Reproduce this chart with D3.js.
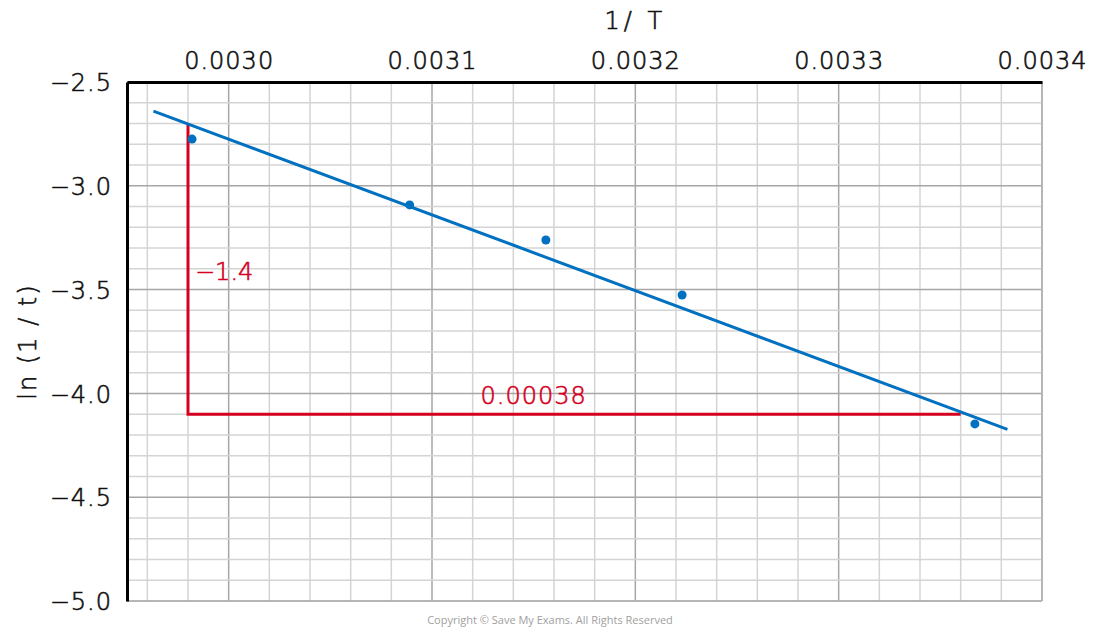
<!DOCTYPE html>
<html>
<head>
<meta charset="utf-8">
<script src="https://cdn.jsdelivr.net/npm/d3@7"></script>
<style>
  body { margin: 0; background: #fff; }
  text { font-family: "DejaVu Sans", sans-serif; font-weight: 200; }
</style>
</head>
<body>
<svg id="chart" width="1100" height="634"></svg>
<script>
// data
const invT = [0.002982, 0.003089, 0.003156, 0.003223, 0.003367];
const lnRate = [-2.775, -3.092, -3.261, -3.526, -4.147];
const fitX = [0.002963, 0.003383];
const fitY = [-2.64, -4.173];
const triX = [0.00298, 0.00298, 0.00336];
const triY = [-2.7, -4.1, -4.1];
const xTicks = [0.0030, 0.0031, 0.0032, 0.0033, 0.0034];
const yTicks = [-2.5, -3.0, -3.5, -4.0, -4.5, -5.0];
const riseLabel = '−1.4';
const runLabel = '0.00038';

const svg = d3.select('#chart');
const marginLeft = 127, marginTop = 82, width = 915, height = 519;
const font = '"DejaVu Sans", sans-serif';
const ink = '#111';
const red = '#d5001f';

const x = d3.scaleLinear().domain([0.00295, 0.0034]).range([0, width]);
const y = d3.scaleLinear().domain([-2.5, -5.0]).range([0, height]);

const chart = svg.append('g').attr('transform', `translate(${marginLeft}, ${marginTop})`);

// grid
const xMinor = d3.range(0, 23).map(i => 0.00296 + i * 0.00002);
const yMinor = d3.range(0, 26).map(i => -2.5 - i * 0.1);
const isMajorX = v => Math.abs(v * 10000 - Math.round(v * 10000)) < 1e-6;
const isMajorY = v => Math.abs(v * 2 - Math.round(v * 2)) < 1e-6;

chart.append('g').selectAll('line')
  .data(xMinor)
  .enter().append('line')
  .attr('x1', d => x(d)).attr('x2', d => x(d))
  .attr('y1', 0).attr('y2', height)
  .style('stroke', d => isMajorX(d) ? '#a6a6a6' : '#d4d4d4')
  .style('stroke-width', 1.5);

chart.append('g').selectAll('line')
  .data(yMinor)
  .enter().append('line')
  .attr('x1', 0).attr('x2', width)
  .attr('y1', d => y(d)).attr('y2', d => y(d))
  .style('stroke', d => isMajorY(d) ? '#a6a6a6' : '#d4d4d4')
  .style('stroke-width', 1.5);

// right / bottom frame
chart.append('line').attr('x1', width).attr('x2', width).attr('y1', 0).attr('y2', height)
  .style('stroke', '#b5b5b5').style('stroke-width', 1.5);
chart.append('line').attr('x1', 0).attr('x2', width).attr('y1', height).attr('y2', height)
  .style('stroke', '#b5b5b5').style('stroke-width', 1.5);

// axes
const xAxis = chart.append('g')
  .call(d3.axisTop(x).tickValues(xTicks).tickFormat(d3.format('.4f')).tickSize(0).tickPadding(13));
const yAxis = chart.append('g')
  .call(d3.axisLeft(y).tickValues(yTicks).tickFormat(d3.format('.1f')).tickSize(0).tickPadding(15));

[xAxis, yAxis].forEach(a => {
  a.select('.domain').style('stroke', '#000').style('stroke-width', 3);
  a.selectAll('text').style('font-size', '24px').style('fill', ink)
    .style('stroke', ink).style('stroke-width', 0.6)
    .style('font-family', font).style('font-weight', 200)
    .style('letter-spacing', '1px');
});
yAxis.selectAll('text').attr('dy', '0.36em');

// axis titles
svg.append('text')
  .attr('x', marginLeft + x(0.0032)).attr('y', 29)
  .attr('text-anchor', 'middle')
  .style('font-size', '24px').style('fill', ink)
  .style('stroke', ink).style('stroke-width', 0.6)
  .style('letter-spacing', '4px')
  .text('1/ T');

svg.append('text')
  .attr('transform', `translate(36, ${marginTop + y(-3.75)}) rotate(-90)`)
  .attr('text-anchor', 'middle')
  .style('font-size', '24px').style('fill', ink)
  .style('stroke', ink).style('stroke-width', 0.6)
  .style('letter-spacing', '2px')
  .text('ln (1 / t)');

// gradient triangle
const tri = triX.map((d, i) => ({ x: d, y: triY[i] }));
chart.append('path')
  .datum(tri)
  .attr('d', d3.line().x(d => x(d.x)).y(d => y(d.y)))
  .style('fill', 'none')
  .style('stroke', red)
  .style('stroke-width', 3);

chart.append('text')
  .attr('x', x(triX[0]) + 7).attr('y', y(-3.455))
  .style('font-size', '24px').style('fill', red)
  .style('stroke', red).style('stroke-width', 0.6)
  .text(riseLabel);

chart.append('text')
  .attr('x', x(0.00315)).attr('y', y(-4.1) - 10)
  .attr('text-anchor', 'middle')
  .style('font-size', '24px').style('fill', red)
  .style('stroke', red).style('stroke-width', 0.6)
  .style('letter-spacing', '1px')
  .text(runLabel);

// best fit line
const fit = fitX.map((d, i) => ({ x: d, y: fitY[i] }));
chart.append('path')
  .datum(fit)
  .attr('d', d3.line().x(d => x(d.x)).y(d => y(d.y)))
  .style('fill', 'none')
  .style('stroke', '#0070c0')
  .style('stroke-width', 3);

// points
chart.append('g').selectAll('circle')
  .data(invT.map((d, i) => ({ x: d, y: lnRate[i] })))
  .enter().append('circle')
  .attr('cx', d => x(d.x)).attr('cy', d => y(d.y))
  .attr('r', 4.5)
  .style('fill', '#0070c0');

// footer
svg.append('text')
  .attr('x', 550).attr('y', 624)
  .attr('text-anchor', 'middle')
  .style('font-family', '"Open Sans", sans-serif').style('font-weight', 400)
  .style('font-size', '11px').style('fill', '#a0a0a0')
  .text('Copyright © Save My Exams. All Rights Reserved');
</script>
</body>
</html>
